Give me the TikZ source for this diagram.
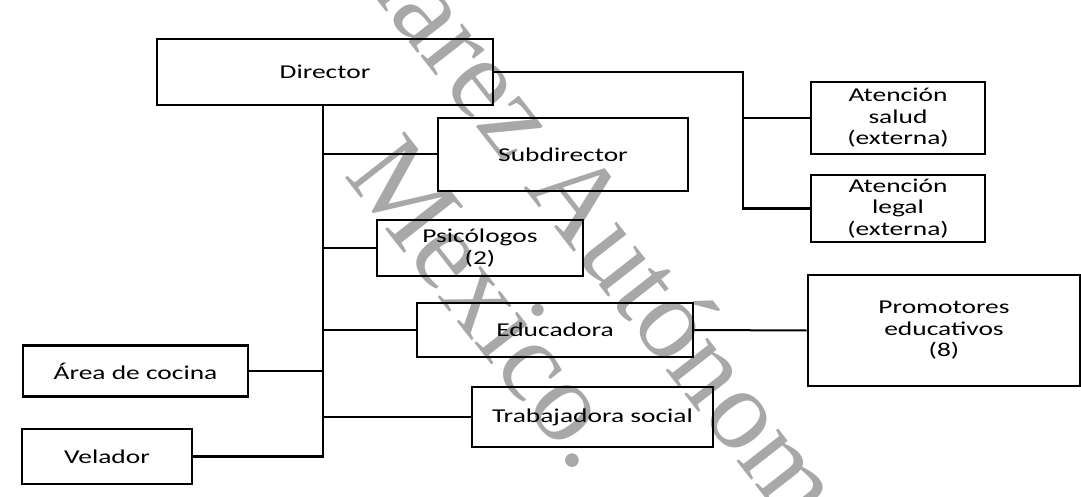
\documentclass[tikz,border=0pt]{standalone}
\usepackage{fontspec}
\setmainfont{Carlito}[FakeStretch=1.4]
\newfontfamily\wmfont{Liberation Serif}
\definecolor{wmgray}{RGB}{168,168,168}
\tikzset{
  box/.style={draw=black, line width=2.8pt, rectangle, inner sep=0pt, align=center,
    font={\fontsize{19.6}{21.5}\selectfont}, text=black},
  conn/.style={draw=black, line width=2pt},
  trunk/.style={draw=black, line width=2.6pt},
  wm/.style={font={\wmfont\fontsize{115}{115}\selectfont}, text=wmgray, rotate=-52,
    inner sep=0pt}
}
\begin{document}
\begin{tikzpicture}[x=1pt,y=1pt]
\useasboundingbox (0,0) rectangle (1081,-497);
\clip (0,0) rectangle (1081,-497);
% watermark
\node[wm, anchor=base west] (wmA) at (523,-187.5) {\llap{Universidad Juárez }Autónoma de Tabasco.};
\node[wm, anchor=base east] (wmB) at (577.4,-474.9) {Mexico.};
% boxes
\node[box, minimum width=336pt, minimum height=66pt] (dir) at (325,-72) {Director};
\node[box, minimum width=250pt, minimum height=73pt] (sub) at (563,-154.5) {Subdirector};
\node[box, minimum width=206pt, minimum height=56pt] (psi) at (480,-248) {Psicólogos\\(2)};
\node[box, minimum width=276pt, minimum height=54pt] (edu) at (555,-330) {Educadora};
\node[box, minimum width=241pt, minimum height=60pt] (tra) at (592.5,-417) {Trabajadora social};
\node[box, minimum width=225pt, minimum height=51pt] (coc) at (135.5,-371) {Área de cocina};
\node[box, minimum width=170pt, minimum height=55pt] (vel) at (107,-456.5) {Velador};
\node[box, minimum width=174pt, minimum height=72pt] (sal) at (898,-118) {Atención\\salud\\(externa)};
\node[box, minimum width=174pt, minimum height=67pt] (leg) at (898,-208.5) {Atención\\legal\\(externa)};
\node[box, minimum width=272pt, minimum height=111pt] (pro) at (944,-330.5) {Promotores\\educativos\\(8)};
% connectors
\coordinate (tk) at (323,-105);
\coordinate (rx) at (743,-72);
\draw[trunk] (tk) -- (tk |- vel.east) -- (vel.east);
\draw[conn] (tk |- sub.west) -- (sub.west);
\draw[conn] (tk |- psi.west) -- (psi.west);
\draw[conn] (tk |- edu.west) -- (edu.west);
\draw[conn] (tk |- tra.west) -- (tra.west);
\draw[conn] (tk |- coc.east) -- (coc.east);
\draw[trunk] (dir.east) -- (rx) -- (rx |- leg.west) -- (leg.west);
\draw[conn] (rx |- sal.west) -- (sal.west);
\draw[conn] (edu.east) -- (pro.west);
\end{tikzpicture}
\end{document}
